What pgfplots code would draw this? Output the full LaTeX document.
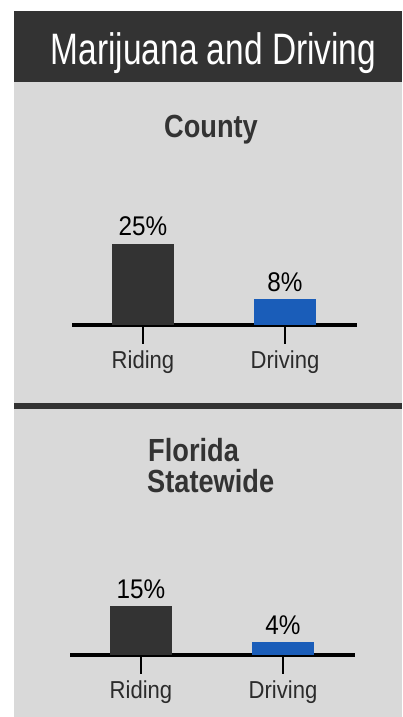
\documentclass[border=0pt]{standalone}
\usepackage{pgfplots}
\pgfplotsset{compat=1.18}
\usepackage{fontspec}
\setmainfont{Liberation Sans}[FakeStretch=0.85]
\newfontfamily\titlefont{Liberation Sans}[FakeStretch=0.76]
\newfontfamily\labelfont{Liberation Sans}[FakeStretch=0.9]

\definecolor{panelgray}{HTML}{D9D9D9}
\definecolor{darkbar}{HTML}{333333}
\definecolor{bluebar}{HTML}{1A5DB9}
\definecolor{labelgray}{HTML}{2B2B2B}

\pgfplotsset{
  panel/.style={
    scale only axis,
    anchor=south west,
    width=285.4bp, height=97.5bp,
    xmin=-0.5, xmax=1.51, ymin=0, ymax=30,
    clip=false,
    axis x line=bottom, axis y line=none,
    x axis line style={line width=4bp, black, -},
    xtick={0,1}, xticklabels={Riding,Driving},
    tick align=outside, major tick length=19bp,
    xtick style={line width=2bp, black},
    xticklabel style={font=\labelfont\fontsize{24.5bp}{27bp}\selectfont, text=labelgray, yshift=-3bp},
    ytick=\empty,
    ybar, bar width=62bp, bar shift=0pt,
    point meta=explicit symbolic,
    nodes near coords,
    every node near coord/.append style={font=\labelfont\fontsize{27bp}{29bp}\selectfont, text=black, yshift=4bp},
  }
}

\begin{document}
\begin{tikzpicture}[x=1bp,y=1bp]
\path[use as bounding box, fill=white] (0,0) rectangle (402,717);
% panels
\fill[panelgray] (14,0) rectangle (402,635);
\fill[darkbar] (14,635) rectangle (402,706);
\fill[darkbar] (14,308) rectangle (402,314);
\node[anchor=base, text=white, font=\titlefont\fontsize{44bp}{48bp}\selectfont] at (213.5,652) {Marijuana and Driving};

\node[anchor=base, text=darkbar, font=\bfseries\fontsize{32bp}{34bp}\selectfont] at (211,579) {County};
\node[anchor=base west, inner xsep=0pt, text=darkbar, font=\bfseries\fontsize{32bp}{34bp}\selectfont] at (148,255) {Florida};
\node[anchor=base west, inner xsep=0pt, text=darkbar, font=\bfseries\fontsize{32bp}{34bp}\selectfont] at (147,224) {Statewide};

\coordinate (P1) at (72,392);
\coordinate (P2) at (70,62);

% County
\begin{axis}[panel, at={(P1)}]
\addplot[fill=darkbar, draw=none] coordinates {(0,25) [25\%]};
\addplot[fill=bluebar, draw=none] coordinates {(1,8) [8\%]};
\end{axis}

% Florida statewide
\begin{axis}[panel, at={(P2)}]
\addplot[fill=darkbar, draw=none] coordinates {(0,15) [15\%]};
\addplot[fill=bluebar, draw=none] coordinates {(1,4) [4\%]};
\end{axis}
\end{tikzpicture}
\end{document}
